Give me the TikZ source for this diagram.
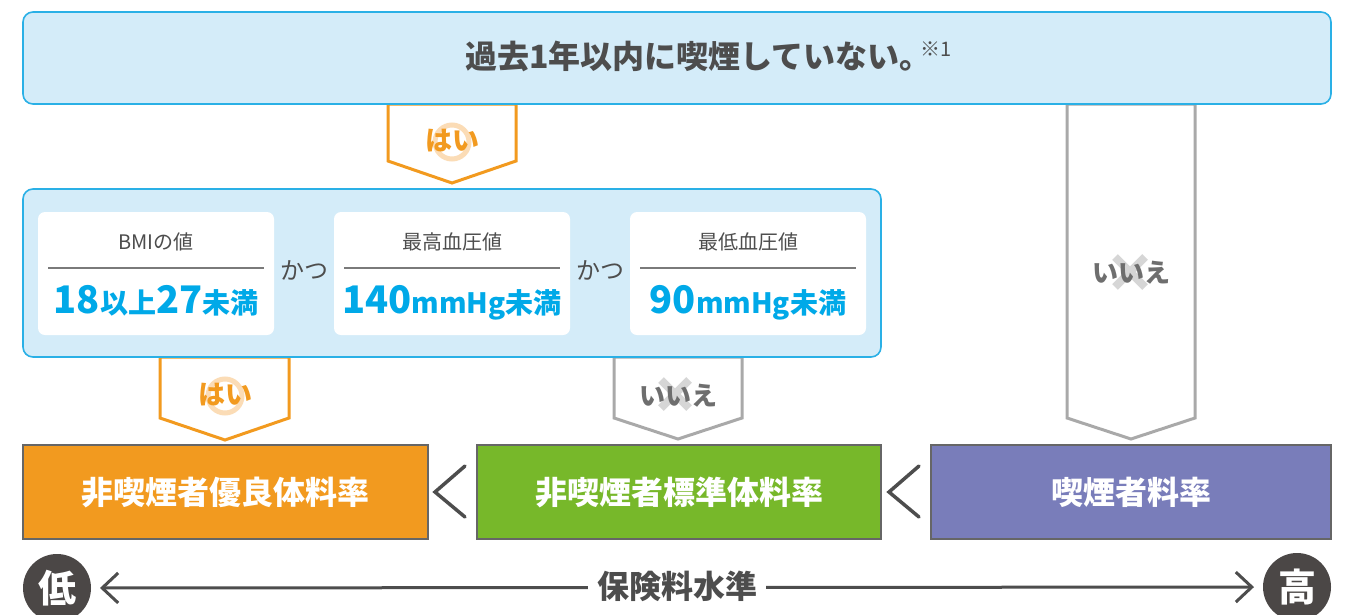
\documentclass[tikz,border=0pt]{standalone}
\usepackage{fontspec}
\setmainfont{Noto Sans CJK JP}
\usetikzlibrary{arrows.meta}
\definecolor{lightb}{HTML}{D4ECF9}
\definecolor{cyanb}{HTML}{2AB0E6}
\definecolor{orng}{HTML}{F29A1F}
\definecolor{paleo}{HTML}{FBDCB6}
\definecolor{grayc}{HTML}{A9A9A9}
\definecolor{txtg}{HTML}{4D4D4D}
\definecolor{iieg}{HTML}{6E6E6E}
\definecolor{xg}{HTML}{D6D6D6}
\definecolor{valc}{HTML}{00A9E8}
\definecolor{grn}{HTML}{77B82A}
\definecolor{purp}{HTML}{797DBA}
\definecolor{darkc}{HTML}{4B4746}
\definecolor{boxedge}{HTML}{666666}
\definecolor{rulec}{HTML}{7A7A7A}
\newcommand{\fs}[1]{\fontsize{#1}{#1}\selectfont}
\begin{document}
\begin{tikzpicture}[x=1pt,y=-1pt,
  every node/.style={inner sep=0pt, outer sep=0pt},
  bluebox/.style={draw=cyanb, line width=1.6pt, fill=lightb, rounded corners=10pt},
  whitebox/.style={fill=white, rounded corners=7pt},
  chevo/.style={draw=orng, line width=3pt, fill=white},
  chevg/.style={draw=grayc, line width=3pt, fill=white},
  ratebox/.style={draw=boxedge, line width=1.5pt, minimum width=405pt, minimum height=94pt, text=white, font=\fs{32}\bfseries},
  hai/.style={text=orng, font=\fs{27}\bfseries},
  iie/.style={text=iieg, font=\fs{26}\bfseries},
  ring/.style={draw=paleo, line width=5pt},
  xmark/.style={draw=xg, line width=8pt},
  lbl/.style={text=txtg, font=\fs{20}},
  kat/.style={text=txtg, font=\fs{24}},
  val/.style={text=valc, font=\bfseries},
  rulel/.style={draw=rulec, line width=1.2pt},
  lt/.style={draw=txtg, line width=3.5pt, line cap=round, line join=miter},
  circ/.style={circle, fill=darkc, minimum size=68pt, text=white, font=\fs{38}\bfseries},
  axis/.style={draw=txtg, line width=3pt, {Straight Barb[length=16pt,width=30pt]}-{Straight Barb[length=16pt,width=30pt]}, shorten <=9pt, shorten >=9pt}
]
\useasboundingbox (0,0) rectangle (1354,614);
% chevrons
\draw[chevg] (1067,104) -- (1067,418) -- (1131,439) -- (1195,418) -- (1195,104) -- cycle;
\draw[chevo] (388,104) -- (388,161) -- (452,183) -- (516,161) -- (516,104) -- cycle;
\draw[chevo] (160,357) -- (160,418) -- (225,440) -- (289,418) -- (289,357) -- cycle;
\draw[chevg] (614,357) -- (614,418) -- (678,439) -- (742,418) -- (742,357) -- cycle;
% blue boxes
\draw[bluebox] (23,12) rectangle (1331,104);
\draw[bluebox] (23,189) rectangle (881,357);
\node[text=txtg, font=\fs{32}\bfseries, anchor=base west] (q1) at (465,68) {過去1年以内に喫煙していない。\kern-11pt\raisebox{12pt}{\fs{20}\mdseries ※1}};
% yes / no labels
\draw[ring] (452,142) circle (17pt);
\node[hai] (yes1) at (452,141) {はい};
\draw[ring] (225,396) circle (17pt);
\node[hai] (yes2) at (225,395) {はい};
\draw[xmark] (661,380) -- (689,408) (689,380) -- (661,408);
\node[iie] (no1) at (678,396) {いいえ};
\draw[xmark] (1115,257) -- (1145,287) (1145,257) -- (1115,287);
\node[iie] (no2) at (1131,273) {いいえ};
% white boxes
\foreach \cx in {156,452,748} {
  \fill[whitebox] (\cx-118,212) rectangle (\cx+118,335);
  \draw[rulel] (\cx-108,268) -- (\cx+108,268);
}
\node[lbl] (l1) at (156,242) {BMIの値};
\node[lbl] (l2) at (452,242) {最高血圧値};
\node[lbl] (l3) at (748,242) {最低血圧値};
\node[val, anchor=base] (v1) at (156,313) {\fs{38}18\fs{28}以上\fs{38}27\fs{28}未満};
\node[val, anchor=base] (v2) at (452,313) {\fs{38}140\fs{28}mmHg未満};
\node[val, anchor=base] (v3) at (748,313) {\fs{38}90\fs{28}mmHg未満};
\node[kat] (k1) at (304,270) {かつ};
\node[kat] (k2) at (600,270) {かつ};
% rate boxes
\node[ratebox, fill=orng] (r1) at (225.5,492) {非喫煙者優良体料率};
\node[ratebox, fill=grn, minimum width=404pt] (r2) at (679,492) {非喫煙者標準体料率};
\node[ratebox, fill=purp, minimum width=400pt] (r3) at (1131,492) {喫煙者料率};
\draw[lt] (465,466) -- (435,492) -- (465,517);
\draw[lt] (919,466) -- (889,492) -- (919,517);
% scale
\node[circ] (low) at (57,588) {低};
\node[circ] (high) at (1297,587) {高};
\draw[axis] (low) -- (high);
\node[fill=white, inner xsep=9pt, inner ysep=4pt, text=txtg, font=\fs{32}\bfseries] (lvl) at (677,586) {保険料水準};
\end{tikzpicture}
\end{document}
